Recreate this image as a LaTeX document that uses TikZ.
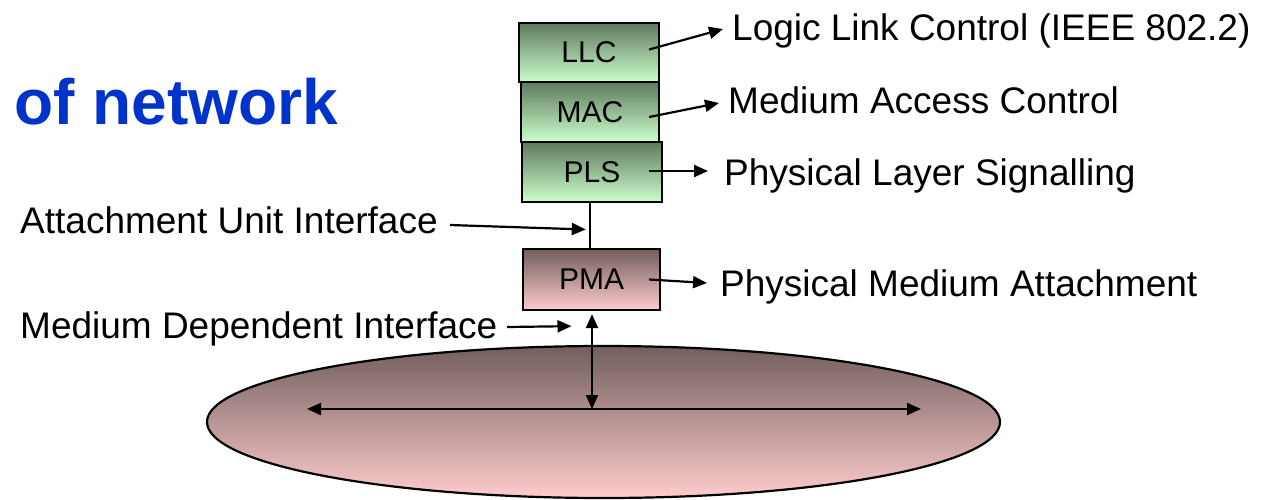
\documentclass[tikz,border=0pt]{standalone}
\usepackage{fontspec}
\setmainfont{Liberation Sans}
\usetikzlibrary{arrows.meta,shapes.geometric,calc}
\definecolor{greentop}{RGB}{94,122,94}
\definecolor{greenbot}{RGB}{204,255,204}
\definecolor{pinktop}{RGB}{114,94,94}
\definecolor{pinkbot}{RGB}{255,204,204}
\definecolor{titleblue}{RGB}{0,51,204}
\tikzset{
  layerbox/.style={draw=black, line width=2.3pt, rectangle, inner sep=0pt,
    font=\fontsize{30}{36}\selectfont},
  greenlayer/.style={layerbox, top color=greentop, bottom color=greenbot},
  pinklayer/.style={layerbox, top color=pinktop, bottom color=pinkbot},
  label/.style={inner sep=0pt, anchor=base west, font=\fontsize{37}{44}\selectfont},
  arr/.style={line width=2.2pt, -{Triangle[length=14pt,width=12pt]}},
  dblarr/.style={line width=2.2pt, {Triangle[length=14pt,width=12pt]}-{Triangle[length=14pt,width=12pt]}},
}
\begin{document}
\begin{tikzpicture}[x=1pt,y=-1pt]
\useasboundingbox (0,0) rectangle (1267,499);

% network medium
\node[ellipse, draw=black, line width=2.2pt, top color=pinktop, bottom color=pinkbot,
      minimum width=793pt, minimum height=152pt, inner sep=0pt] (medium) at (603.5,422) {};

% heading
\node[inner sep=0pt, anchor=base west, text=titleblue,
      font=\fontsize{64}{76}\selectfont\bfseries] (title) at (14,124) {of network};

% layer stack
\node[greenlayer, minimum width=140pt, minimum height=59pt] (llc) at (589,52.5) {LLC};
\node[greenlayer, minimum width=138pt, minimum height=60pt] (mac) at (590,112) {MAC};
\node[greenlayer, minimum width=140pt, minimum height=60pt] (pls) at (592,172) {PLS};
\node[pinklayer, minimum width=137pt, minimum height=61pt] (pma) at (591.5,279.5) {PMA};

% layer names
\node[label] (llcL) at (732,40) {Logic Link Control (IEEE 802.2)};
\node[label] (macL) at (728,113) {Medium Access Control};
\node[label] (plsL) at (724,185) {Physical Layer Signalling};
\node[label] (pmaL) at (720,296) {Physical Medium Attachment};
\node[label] (auiL) at (20,233) {Attachment Unit Interface};
\node[label] (mdiL) at (20,338) {Medium Dependent Interface};

% attachment points
\coordinate (aui) at ($(pls.south)!0.5!(pma.north)$);
\coordinate (mdi) at ($(pma.south)+(0,3)$);
\coordinate (bus) at (592,409);
\coordinate (busL) at (307,409);
\coordinate (busR) at (921,409);

% connectors
\draw[line width=2.2pt] (pls.south -| 590,0) -- (pma.north -| 590,0);
\draw[arr] ($(llc.east)+(-11,-3)$) -- ($(llcL.base west)+(-9,-11)$);
\draw[arr] ($(mac.east)+(-11,5)$) -- ($(macL.base west)+(-9,-10)$);
\draw[arr] ($(pls.east)+(-14,-1)$) -- ($(plsL.base west)+(-16,-14)$);
\draw[arr] ($(pma.east)+(-12,0)$) -- ($(pmaL.base west)+(-13,-13)$);
\draw[arr] ($(auiL.base west)+(430,-8)$) -- ($(aui)+(-6,4)$);
\draw[arr] ($(mdiL.base west)+(487,-11)$) -- ($(mdi)+(-20,12)$);
\draw[dblarr] (mdi -| bus) -- (bus);
\draw[dblarr] (busL) -- (busR);
\end{tikzpicture}
\end{document}
